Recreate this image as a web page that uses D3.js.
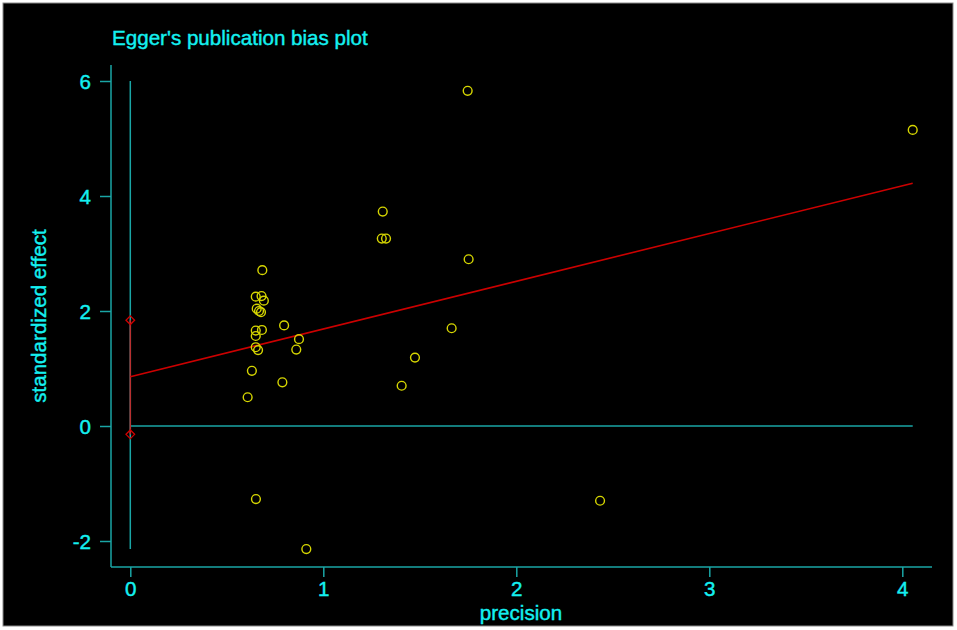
<!DOCTYPE html>
<html><head><meta charset="utf-8">
<script src="https://cdn.jsdelivr.net/npm/d3@7"></script>
<style>
html,body{margin:0;padding:0;background:#fff;}
svg{display:block;}
text{font-family:"Liberation Sans",Arial,Helvetica,sans-serif;}
</style></head>
<body><svg id="c" width="957" height="630"></svg>
<script>
const precision = [1.748,4.054,1.308,1.303,1.325,1.753,0.684,0.650,0.680,0.692,0.655,0.667,0.677,0.797,0.650,0.682,0.650,0.874,0.650,0.662,0.860,1.475,1.665,0.630,0.788,1.406,0.608,0.651,2.434,0.912];
const stdEffect = [5.83,5.15,3.73,3.26,3.26,2.90,2.71,2.25,2.26,2.18,2.04,2.00,1.98,1.75,1.66,1.67,1.565,1.51,1.37,1.32,1.33,1.19,1.70,0.96,0.76,0.70,0.50,-1.27,-1.30,-2.14];
const xTicks = [0,1,2,3,4];
const yTicks = [-2,0,2,4,6];
const intercept = 0.857, slope = 0.83;
const interceptCI = [-0.145, 1.84];

const svg = d3.select("#c");
svg.append("rect").attr("x",3).attr("y",3).attr("width",950).attr("height",623)
  .attr("fill","#000").attr("stroke","#8a8a8a").attr("stroke-width",1);

const x = d3.scaleLinear().domain([0,4]).range([130.3,902.3]);
const y = d3.scaleLinear().domain([-2,6]).range([541,81]);
const axisCol = "#1aa6a6", textCol = "#14f0f0";
const fs = 20.6;
function heavy(sel){ return sel.attr("stroke",textCol).attr("stroke-width",0.4).attr("paint-order","stroke"); }

// axis lines
svg.append("line").attr("x1",111).attr("x2",111).attr("y1",65).attr("y2",567).attr("stroke",axisCol).attr("stroke-width",1.5);
svg.append("line").attr("x1",111).attr("x2",932).attr("y1",567).attr("y2",567).attr("stroke",axisCol).attr("stroke-width",1.5);

const fmt = d => String(d);
const ya = svg.append("g").attr("transform","translate(111,0)")
  .call(d3.axisLeft(y).tickValues(yTicks).tickSize(11).tickPadding(9).tickFormat(fmt));
const xa = svg.append("g").attr("transform","translate(0,567)")
  .call(d3.axisBottom(x).tickValues(xTicks).tickSize(10).tickPadding(6).tickFormat(fmt));
[ya,xa].forEach(a=>{
  a.select(".domain").remove();
  a.selectAll(".tick line").attr("stroke",axisCol).attr("stroke-width",1.5);
  heavy(a.selectAll(".tick text").attr("fill",textCol).attr("font-size",fs).attr("font-family","Liberation Sans, Arial, sans-serif"));
});
ya.selectAll(".tick text").attr("dy","0.35em");
xa.selectAll(".tick text").attr("dy","0.64em");

// reference lines
const pMax = d3.max(precision);
svg.append("line").attr("x1",x(0)).attr("x2",x(0)).attr("y1",y(6)).attr("y2",y(d3.min(stdEffect)))
  .attr("stroke",axisCol).attr("stroke-width",1.5);
svg.append("line").attr("x1",x(0)).attr("x2",x(pMax)).attr("y1",y(0)).attr("y2",y(0))
  .attr("stroke",axisCol).attr("stroke-width",1.5);

// intercept CI
svg.append("line").attr("x1",x(0)).attr("x2",x(0)).attr("y1",y(interceptCI[0])).attr("y2",y(interceptCI[1]))
  .attr("stroke","#b83030").attr("stroke-width",1.5);
svg.selectAll("path.dia").data(interceptCI).enter().append("path")
  .attr("d",d=>{const cx=x(0),cy=y(d),s=4.3;return `M${cx},${cy-s}L${cx+s},${cy}L${cx},${cy+s}L${cx-s},${cy}Z`;})
  .attr("fill","none").attr("stroke","#d40000").attr("stroke-width",1.3);

// regression line
svg.append("line").attr("x1",x(0)).attr("y1",y(intercept)).attr("x2",x(pMax)).attr("y2",y(intercept+slope*pMax))
  .attr("stroke","#cc0000").attr("stroke-width",1.6);

// points
svg.selectAll("circle.pt").data(precision.map((p,i)=>[p,stdEffect[i]])).enter().append("circle")
  .attr("cx",d=>x(d[0])).attr("cy",d=>y(d[1])).attr("r",4.4)
  .attr("fill","none").attr("stroke","#d6d600").attr("stroke-width",1.4);

// titles
heavy(svg.append("text").attr("x",112).attr("y",45).attr("fill",textCol).attr("font-size",fs).text("Egger's publication bias plot"));
heavy(svg.append("text").attr("x",521).attr("y",619.5).attr("text-anchor","middle").attr("fill",textCol).attr("font-size",fs).text("precision"));
heavy(svg.append("text").attr("transform","translate(46,316) rotate(-90)").attr("text-anchor","middle").attr("fill",textCol).attr("font-size",fs).text("standardized effect"));
</script></body></html>
